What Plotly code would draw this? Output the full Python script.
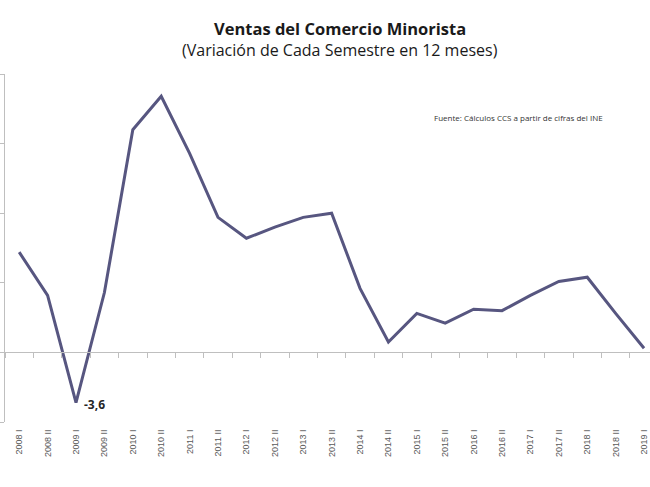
import plotly.graph_objects as go

categories = ["2008 I", "2008 II", "2009 I", "2009 II", "2010 I", "2010 II",
              "2011 I", "2011 II", "2012 I", "2012 II", "2013 I", "2013 II",
              "2014 I", "2014 II", "2015 I", "2015 II", "2016 I", "2016 II",
              "2017 I", "2017 II", "2018 I", "2018 II", "2019 I"]
values = [7.2, 4.1, -3.6, 4.3, 16.0, 18.4, 14.3, 9.7, 8.2, 9.0, 9.7, 10.0,
          4.6, 0.75, 2.8, 2.1, 3.1, 3.0, 4.1, 5.1, 5.4, 2.8, 0.3]

title_text = "Ventas del Comercio Minorista"
subtitle_text = "(Variación de Cada Semestre en 12 meses)"
source_text = "Fuente: Cálculos CCS a partir de cifras del INE"
min_label = "-3,6"
min_idx = values.index(min(values))

line_color = "#575680"
axis_color = "#bfbfbf"

fig = go.Figure()
fig.add_trace(go.Scatter(x=categories, y=values, mode="lines",
                         line=dict(color=line_color, width=3),
                         hoverinfo="x+y", showlegend=False))
# dummy trace to carry the zero-line axis with boundary ticks
fig.add_trace(go.Scatter(x=categories, y=[None] * len(categories), xaxis="x2",
                         mode="lines", showlegend=False, hoverinfo="skip"))

fig.update_layout(
    width=650, height=487,
    margin=dict(l=5, r=0, t=74, b=65),
    paper_bgcolor="white", plot_bgcolor="white",
    font=dict(family="Liberation Sans, Arial, sans-serif"),
    xaxis=dict(type="category", range=[-0.5, 22.21], showgrid=False,
               showline=False, zeroline=False, tickangle=-90,
               ticks="outside", ticklen=3, tickcolor="rgba(0,0,0,0)",
               automargin=False,
               tickfont=dict(size=9, color="#595959")),
    xaxis2=dict(type="category", overlaying="x", matches="x", anchor="free",
                position=0.2, side="bottom", showgrid=False, showline=True,
                linecolor=axis_color, linewidth=1, ticks="outside",
                tickson="boundaries", ticklen=5, tickcolor=axis_color,
                showticklabels=False, zeroline=False, automargin=False),
    yaxis=dict(range=[-5, 20], dtick=5, showgrid=False, zeroline=False,
               showline=True, linecolor=axis_color, linewidth=1,
               ticks="outside", ticklen=4, tickcolor=axis_color,
               showticklabels=False, automargin=False),
    annotations=[
        dict(text="<b>" + title_text + "</b>", xref="paper", yref="paper",
             x=(340 - 5) / 645, y=1, yshift=74 - 28, showarrow=False,
             xanchor="center", yanchor="middle",
             font=dict(size=16.5, color="#1a1a1a", family="Open Sans, sans-serif")),
        dict(text=subtitle_text, xref="paper", yref="paper",
             x=(340 - 5) / 645, y=1, yshift=74 - 50, showarrow=False,
             xanchor="center", yanchor="middle",
             font=dict(size=16, color="#1a1a1a", family="Open Sans, sans-serif")),
        dict(text=source_text, xref="paper", yref="paper",
             x=(432 - 5) / 645, y=(422 - 118) / 348, showarrow=False,
             xanchor="left", yanchor="middle",
             font=dict(size=8, color="#333333", family="Open Sans, sans-serif")),
        dict(text="<b>" + min_label + "</b>", x=categories[min_idx],
             y=values[min_idx], xref="x", yref="y", showarrow=False,
             xanchor="left", yanchor="middle", xshift=6, yshift=-2,
             font=dict(size=12, color="#262626", family="Open Sans, sans-serif")),
    ],
)

fig.write_html("out.html",
               config={"displayModeBar": False},
               post_script="document.body.style.margin='0';"
                           "document.body.style.overflow='hidden';")
